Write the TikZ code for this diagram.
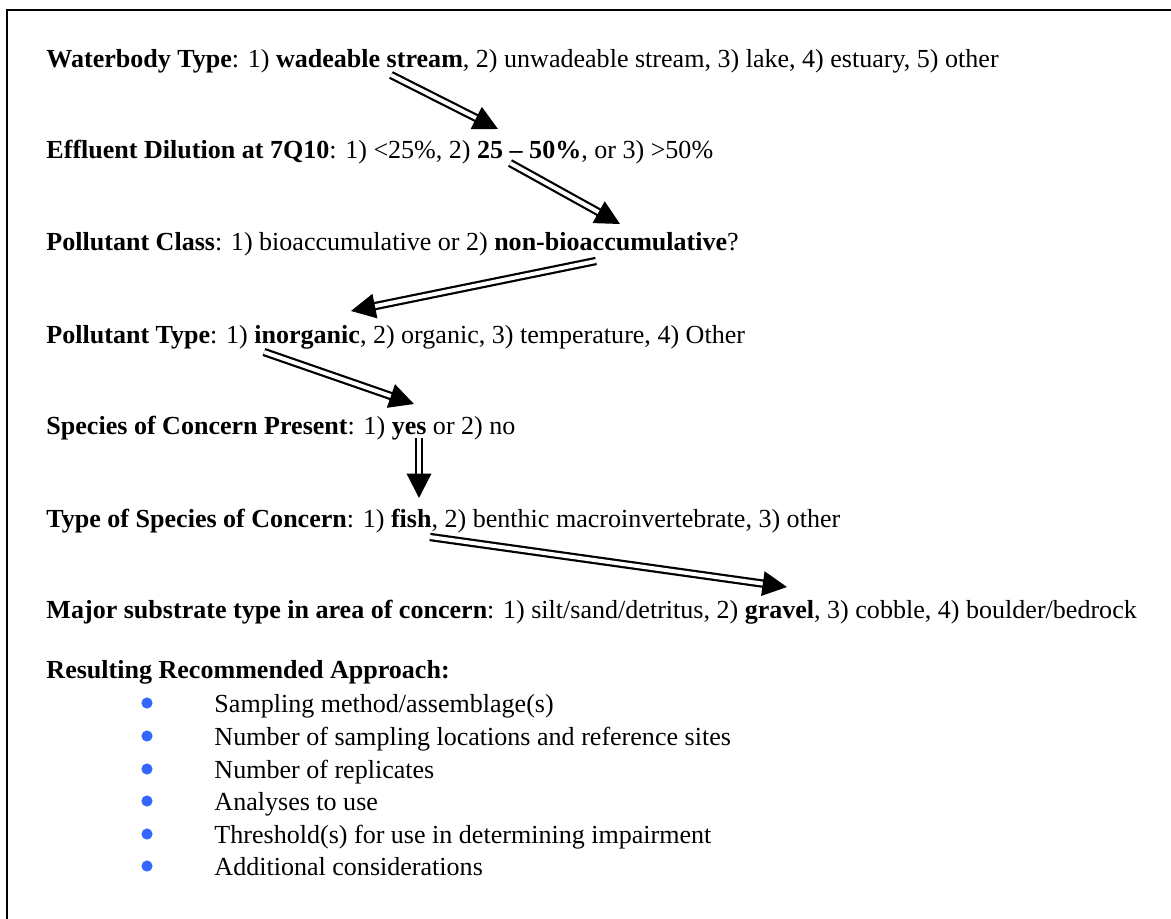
\documentclass[tikz,border=0pt]{standalone}
\usepackage{fontspec}
\setmainfont{Liberation Serif}
\usetikzlibrary{arrows.meta}
\definecolor{bulletblue}{HTML}{3366FF}

\tikzset{
  line/.style={anchor=base west, inner sep=0pt, font=\fontsize{11.2}{13.5}\selectfont},
  dblarrow/.style={double, double distance=1.7pt, line width=0.95pt,
    -{Triangle[length=10.5pt, width=10.5pt]}},
  dot/.style={circle, fill=bulletblue, inner sep=0pt, minimum size=4.8pt}
}

\begin{document}
\begin{tikzpicture}[x=0.43pt, y=0.43pt]
  \useasboundingbox (0,0) rectangle (1171,-918);
  \clip (0,0) rectangle (1171,-918);
  \draw [black, line width=0.9pt] (7,-10) rectangle (1200,-950);

  \node [line] (wbt) at (46,-67) {\textbf{Waterbody Type}: 1) \textbf{wadeable stream}, 2) unwadeable stream, 3) lake, 4) estuary, 5) other};
  \node [line] (eff) at (46,-158) {\textbf{Effluent Dilution at 7Q10}: 1) <25\%, 2) \textbf{25 – 50\%}, or 3) >50\%};
  \node [line] (pcl) at (46,-250) {\textbf{Pollutant Class}: 1) bioaccumulative or 2) \textbf{non-bioaccumulative}?};
  \node [line] (pty) at (46,-343) {\textbf{Pollutant Type}: 1) \textbf{inorganic}, 2) organic, 3) temperature, 4) Other};
  \node [line] (scp) at (46,-434) {\textbf{Species of Concern Present}: 1) \textbf{yes} or 2) no};
  \node [line] (tsc) at (46,-527) {\textbf{Type of Species of Concern}: 1) \textbf{fish}, 2) benthic macroinvertebrate, 3) other};
  \node [line] (mst) at (46,-618) {\textbf{Major substrate type in area of concern}: 1) silt/sand/detritus, 2) \textbf{gravel}, 3) cobble, 4) boulder/bedrock};
  \node [line] (rra) at (46,-678) {\textbf{Resulting Recommended Approach:}};

  \node [dot] (b1) at (147,-703) {};
  \node [line] (i1) at (214,-712) {Sampling method/assemblage(s)};
  \node [dot] (b2) at (147,-736) {};
  \node [line] (i2) at (214,-745) {Number of sampling locations and reference sites};
  \node [dot] (b3) at (147,-769) {};
  \node [line] (i3) at (214,-778) {Number of replicates};
  \node [dot] (b4) at (147,-801) {};
  \node [line] (i4) at (214,-810) {Analyses to use};
  \node [dot] (b5) at (147,-834) {};
  \node [line] (i5) at (214,-843) {Threshold(s) for use in determining impairment};
  \node [dot] (b6) at (147,-866) {};
  \node [line] (i6) at (214,-875) {Additional considerations};

  \coordinate (a1s) at (391,-75);
  \coordinate (a1e) at (498,-129);
  \coordinate (a2s) at (510,-163);
  \coordinate (a2e) at (620,-224);
  \coordinate (a3s) at (596,-261);
  \coordinate (a3e) at (351,-311);
  \coordinate (a4s) at (264,-352);
  \coordinate (a4e) at (414,-404);
  \coordinate (a5s) at (419,-438);
  \coordinate (a5e) at (419,-498);
  \coordinate (a6s) at (430,-537);
  \coordinate (a6e) at (787,-587);

  \draw [dblarrow] (a1s) -- (a1e);
  \draw [dblarrow] (a2s) -- (a2e);
  \draw [dblarrow] (a3s) -- (a3e);
  \draw [dblarrow] (a4s) -- (a4e);
  \draw [dblarrow] (a5s) -- (a5e);
  \draw [dblarrow] (a6s) -- (a6e);
\end{tikzpicture}
\end{document}
